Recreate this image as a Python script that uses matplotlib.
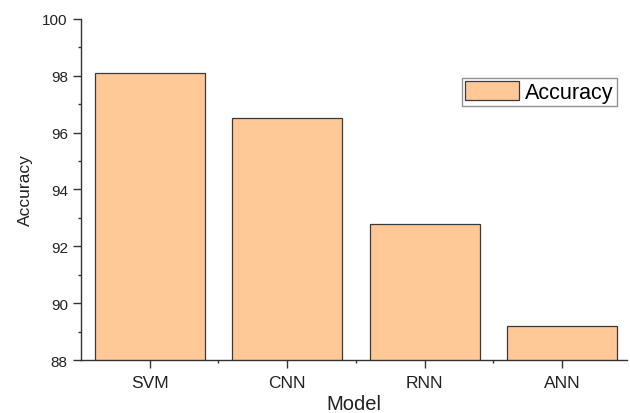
import matplotlib
matplotlib.use("Agg")
import matplotlib.pyplot as plt
from matplotlib.ticker import MultipleLocator, FixedLocator

plt.rcParams['font.family'] = ['Liberation Sans', 'DejaVu Sans']

models = ['SVM', 'CNN', 'RNN', 'ANN']
accuracy = [98.1, 96.5, 92.8, 89.2]

fig = plt.figure(figsize=(6.3, 4.14), dpi=100)
ax = fig.add_axes([0.1286, 0.128, 0.866, 0.824])

pos = list(range(1, len(models) + 1))
ax.bar(pos, accuracy, width=0.8, color='#FFC896', edgecolor='#3a3a3a',
       linewidth=0.9, label='Accuracy')

ax.set_xlim(0.5, 4.47)
ax.set_ylim(88, 100)
ax.set_xticks(pos)
ax.set_xticklabels(models)
ax.xaxis.set_minor_locator(FixedLocator([1.5, 2.5, 3.5]))
ax.yaxis.set_major_locator(MultipleLocator(2))
ax.yaxis.set_minor_locator(MultipleLocator(1))

for s in ['top', 'right']:
    ax.spines[s].set_visible(False)
for s in ['left', 'bottom']:
    ax.spines[s].set_color('#333333')
    ax.spines[s].set_linewidth(1.0)

ax.tick_params(which='major', direction='out', length=5.5, width=1,
               colors='#333333', labelcolor='#222222', pad=4)
ax.tick_params(which='minor', direction='out', length=2.5, width=1, colors='#333333')
ax.tick_params(axis='y', which='major', labelsize=11)
ax.tick_params(axis='x', which='major', labelsize=12.5, pad=5)

ax.set_xlabel('Model', fontsize=14.5, color='#222222', labelpad=3)
ax.set_ylabel('Accuracy', fontsize=12.5, color='#222222', labelpad=7)

leg = ax.legend(loc='upper right', bbox_to_anchor=(0.982, 0.826), fontsize=15.5,
                frameon=True, fancybox=False, handlelength=2.5, handleheight=0.95,
                borderpad=0.15, handletextpad=0.3, borderaxespad=0)
leg.get_frame().set_edgecolor('#777777')
leg.get_frame().set_linewidth(1.0)

fig.savefig('out.png', dpi=100)
